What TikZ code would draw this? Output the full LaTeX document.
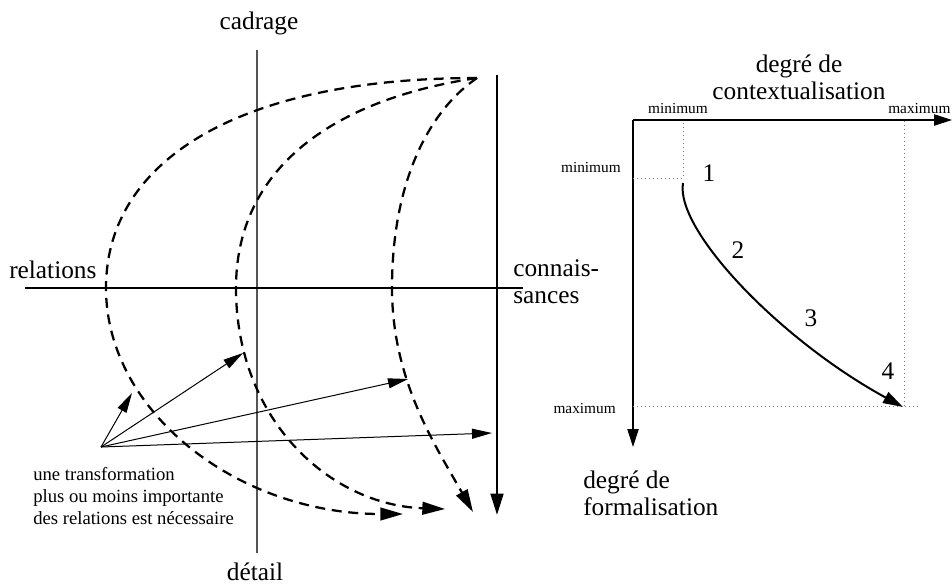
\documentclass[tikz,border=0pt]{standalone}
\usepackage{fontspec}
\setmainfont{Liberation Serif}
\usetikzlibrary{arrows.meta}
\definecolor{axGrey}{HTML}{555555}
\definecolor{dotGrey}{HTML}{777777}
\tikzset{
  bigLabel/.style={font=\fontsize{19}{20}\selectfont, inner sep=0pt},
  noteText/.style={font=\fontsize{14}{16.5}\selectfont, inner sep=0pt, align=left},
  tinyLabel/.style={font=\fontsize{11.5}{13}\selectfont, inner sep=0pt},
  axisLine/.style={line width=0.8pt},
  axisGrey/.style={line width=0.8pt, color=axGrey},
  axisArrow/.style={line width=0.8pt, -{Triangle[length=13.5pt, width=8.5pt]}},
  guideLine/.style={line width=0.7pt, color=dotGrey, dash pattern=on 0.8pt off 2.2pt},
  dashedArc/.style={line width=1.7pt, dash pattern=on 7.5pt off 5pt,
    -{Triangle[length=17pt, width=9.5pt]}},
  thickArrow/.style={line width=2pt, -{Triangle[length=16pt, width=9.5pt]}},
  thinArrow/.style={line width=0.75pt, -{Triangle[length=15pt, width=7.5pt]}},
  pathArrow/.style={line width=1.5pt, -{Triangle[length=15pt, width=9pt]}},
}
\begin{document}
\begin{tikzpicture}[x=0.75pt, y=-0.75pt]
  \useasboundingbox (0,0) rectangle (952,587);

  % left diagram: cadrage / detail and relations / connaissances
  \coordinate (cadTop) at (257,50);
  \coordinate (detBot) at (257,553);
  \coordinate (relLeft) at (25,288);
  \coordinate (conRight) at (523,288);
  \draw[axisGrey] (cadTop) -- (detBot);
  \draw[axisLine] (relLeft) -- (conRight);

  \node[bigLabel, anchor=base] (cadrage) at (259,29) {cadrage};
  \node[bigLabel, anchor=base] (detail) at (255,580) {détail};
  \node[bigLabel, anchor=base west] (relations) at (9,278) {relations};
  \node[bigLabel, anchor=base west, align=left] (connaissances) at (513,303)
    {connais-\\sances};

  \coordinate (knowTop) at (497,75);
  \coordinate (knowBot) at (497,515);
  \draw[thickArrow] (knowTop) -- (knowBot);

  % dashed transformations
  \coordinate (arcStart) at (477,78);
  \coordinate (arcOneMid) at (106,288);
  \coordinate (arcOneEnd) at (403,514);
  \coordinate (arcTwoMid) at (236,288);
  \coordinate (arcTwoEnd) at (445,509);
  \coordinate (arcThreeMid) at (392,288);
  \coordinate (arcThreeEnd) at (473,512);
  \draw[dashedArc] (arcStart) .. controls (240,78) and (106,160) .. (arcOneMid)
    .. controls (106,413) and (239,514) .. (arcOneEnd);
  \draw[dashedArc] (arcStart) .. controls (330,100) and (236,170) .. (arcTwoMid)
    .. controls (236,420) and (330,505) .. (arcTwoEnd);
  \draw[dashedArc] (arcStart) .. controls (430,110) and (392,180) .. (arcThreeMid)
    .. controls (392,380) and (435,445) .. (arcThreeEnd);

  % note and its arrows
  \node[noteText, anchor=base west] (note) at (33,524)
    {une transformation\\plus ou moins importante\\des relations est nécessaire};
  \coordinate (noteTip) at (101,447);
  \coordinate (hitOne) at (132,393);
  \coordinate (hitTwo) at (243,353);
  \coordinate (hitThree) at (408,379);
  \coordinate (hitFour) at (492,433);
  \foreach \t in {hitOne,hitTwo,hitThree,hitFour}
    \draw[thinArrow] (noteTip) -- (\t);

  % right diagram: contextualisation / formalisation
  \coordinate (origin) at (633,120);
  \coordinate (ctxEnd) at (952,120);
  \coordinate (frmEnd) at (633,447);
  \draw[axisArrow] (origin) -- (ctxEnd);
  \draw[axisArrow] (origin) -- (frmEnd);

  \node[bigLabel, anchor=base, align=center] (ctxTitle) at (799,99)
    {degré de\\contextualisation};
  \node[bigLabel, anchor=base west, align=left] (frmTitle) at (583,515)
    {degré de\\formalisation};

  \node[tinyLabel, anchor=base] (ctxMin) at (678,113) {minimum};
  \node[tinyLabel, anchor=base west] (ctxMax) at (888,113) {maximum};
  \node[tinyLabel, anchor=base east] (frmMin) at (621,172) {minimum};
  \node[tinyLabel, anchor=base east] (frmMax) at (616,413) {maximum};

  \coordinate (minCorner) at (683,178);
  \coordinate (maxCorner) at (904,406);
  \draw[guideLine] (origin |- minCorner) -- (minCorner) -- (minCorner |- origin);
  \draw[guideLine] (origin |- maxCorner) -- (920,406);
  \draw[guideLine] (maxCorner) -- (maxCorner |- origin);

  \coordinate (stepStart) at (683,183);
  \coordinate (stepEnd) at (903,407);
  \draw[pathArrow] (stepStart) .. controls (675,230) and (780,340) .. (stepEnd);

  \node[bigLabel, anchor=base] (stepOne) at (709,181) {1};
  \node[bigLabel, anchor=base] (stepTwo) at (738,258) {2};
  \node[bigLabel, anchor=base] (stepThree) at (811,326) {3};
  \node[bigLabel, anchor=base] (stepFour) at (888,379) {4};
\end{tikzpicture}
\end{document}
